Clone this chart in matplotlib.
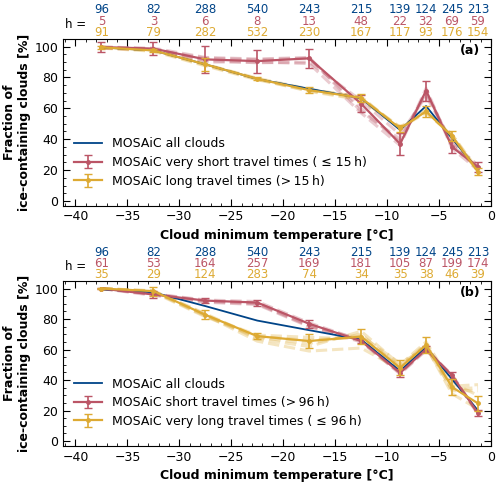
import matplotlib
matplotlib.use("Agg")
import matplotlib.pyplot as plt
from matplotlib.ticker import MultipleLocator

# ---------------------------------------------------------------------------
# Data
# ---------------------------------------------------------------------------
temp = [-37.5, -32.5, -27.5, -22.5, -17.5, -12.5, -8.75, -6.25, -3.75, -1.25]

# number of clouds per bin (header rows)
n_all = [96, 82, 288, 540, 243, 215, 139, 124, 245, 213]
n_a_short = [5, 3, 6, 8, 13, 48, 22, 32, 69, 59]
n_a_long = [91, 79, 282, 532, 230, 167, 117, 93, 176, 154]
n_b_short = [61, 53, 164, 257, 169, 181, 105, 87, 199, 174]
n_b_long = [35, 29, 124, 283, 74, 34, 35, 38, 46, 39]

# all clouds
frac_all = [99.5, 97.5, 88.5, 79, 72.7, 66.5, 46, 61.5, 40.5, 20]

# panel (a)
frac_a_short = [99.7, 98.7, 91.7, 90.6, 92.4, 63, 37, 71.5, 35, 22]
err_a_short = [3, 4.3, 8.7, 7.5, 6, 5.5, 7, 6.5, 3.8, 3]
frac_a_long = [99.5, 97.5, 88.5, 79.1, 71.8, 66.8, 47, 58, 42, 19]
err_a_long = [1, 1, 4, 1, 2, 2.5, 2.5, 3.5, 3, 2.4]

# panel (a) sensitivity runs (faint dashed)
var_a_short = [
    [99, 98, 92.5, 91.5, 92.5, 60, 38, 71, 36, 21],
    [99.5, 99, 93, 92, 93, 58, 40, 70, 37, 22],
    [100, 98.5, 91, 89.5, 90, 65, 43, 68, 38, 23],
    [99, 98, 90, 90, 89, 57, 36, 73, 34, 20],
]
var_a_long = [
    [99.5, 97.5, 88.5, 79.5, 72.5, 67, 47, 58.5, 42, 19.5],
    [99, 97, 87.5, 78.5, 71.5, 66, 48, 57.5, 43, 20],
    [99.5, 97.5, 88, 79, 72, 67.5, 46.5, 59, 41.5, 19],
    [99.5, 98, 88.5, 79, 71, 65.5, 47.5, 57, 43, 18.5],
]

# panel (b)
frac_b_short = [100, 96.1, 92.1, 90.8, 76.9, 65.6, 44.7, 60.2, 43, 18.2]
err_b_short = [0.5, 2, 1.5, 2, 2.5, 1.5, 2.5, 2, 2.5, 2]
frac_b_long = [100, 98.3, 82.8, 68.8, 65.6, 68.5, 48, 63, 35.4, 24.7]
err_b_long = [0.5, 3, 2.9, 2, 4.8, 5, 5, 5, 5.4, 4.8]

var_b_short = [
    [100, 96.5, 92.5, 91.5, 77.5, 66, 45, 60.5, 42.5, 18.5],
    [100, 96, 91.5, 90, 75.5, 65.5, 44, 59.5, 43.5, 17.5],
    [100, 96.5, 92, 90.5, 76, 66.5, 45.5, 61, 42, 19],
    [100, 95.5, 91, 89.5, 75, 65, 44.5, 60, 43, 18],
]
var_b_long = [
    [100, 98, 82, 69.5, 68, 67, 49, 63, 36, 37],
    [100, 98.5, 83.5, 68, 64, 70, 48, 64, 33, 33],
    [100, 98, 82.5, 65.5, 59, 61, 47, 62, 31, 21],
    [100, 98.5, 83, 67, 62, 72, 50, 65, 38, 30],
    [100, 97.5, 81.5, 68.5, 66, 69, 51, 61, 34, 35],
]

BLUE = "#004488"
RED = "#BB5566"
YELLOW = "#DDAA33"
FS = 9
FS_HEAD = 8.5


def style_axes(ax):
    ax.set_xlim(-41.2, 0)
    ax.set_ylim(-3, 105)
    ax.xaxis.set_major_locator(MultipleLocator(5))
    ax.xaxis.set_minor_locator(MultipleLocator(1))
    ax.yaxis.set_major_locator(MultipleLocator(20))
    ax.yaxis.set_minor_locator(MultipleLocator(5))
    ax.tick_params(which="both", direction="in", top=True, right=True,
                   labelsize=FS)
    ax.tick_params(which="major", length=5)
    ax.tick_params(which="minor", length=2.5)
    ax.set_xlabel("Cloud minimum temperature [°C]", fontsize=FS,
                  fontweight="bold")
    ax.set_ylabel("Fraction of\nice-containing clouds [%]", fontsize=FS,
                  fontweight="bold", labelpad=2)


def header(ax, counts, offset, color):
    for x, n in zip(temp, counts):
        ax.annotate(str(n), xy=(x, 1), xycoords=("data", "axes fraction"),
                    xytext=(0, offset), textcoords="offset points",
                    ha="center", va="center", fontsize=FS_HEAD, color=color,
                    annotation_clip=False)


def plot_panel(ax, short, err_short, long_, err_long, var_short, var_long,
               n_short, n_long, lab_short, lab_long, tag):
    for v in var_short:
        ax.plot(temp, v, color=RED, lw=2.2, ls="--", alpha=0.3, zorder=1)
    for v in var_long:
        ax.plot(temp, v, color=YELLOW, lw=2.2, ls="--", alpha=0.3, zorder=1)

    ax.plot(temp, frac_all, color=BLUE, lw=1.3, zorder=2,
            label="MOSAiC all clouds")
    ax.errorbar(temp, short, yerr=err_short, color=RED, lw=1.6, marker="o",
                ms=2.5, capsize=3, elinewidth=1.2, zorder=3, label=lab_short)
    ax.errorbar(temp, long_, yerr=err_long, color=YELLOW, lw=1.6, marker="o",
                ms=2.5, capsize=3, elinewidth=1.2, zorder=4, label=lab_long)

    style_axes(ax)
    ax.text(0.975, 0.93, tag, transform=ax.transAxes, ha="right", va="center",
            fontsize=FS, fontweight="bold")
    ax.legend(loc="lower left", bbox_to_anchor=(0, 0.04), frameon=False,
              fontsize=FS, handlelength=2.2, labelspacing=0.45)

    header(ax, n_all, 20.8, BLUE)
    header(ax, n_short, 12.8, RED)
    header(ax, n_long, 4.8, YELLOW)
    ax.annotate("h =", xy=(-40, 1), xycoords=("data", "axes fraction"),
                xytext=(0, 10.5), textcoords="offset points", ha="center",
                va="center", fontsize=FS_HEAD, annotation_clip=False)


fig = plt.figure(figsize=(5, 4.86), dpi=100)
ax_a = fig.add_axes([0.126, 0.577, 0.856, 0.343])
ax_b = fig.add_axes([0.126, 0.083, 0.856, 0.339])

plot_panel(ax_a, frac_a_short, err_a_short, frac_a_long, err_a_long,
           var_a_short, var_a_long, n_a_short, n_a_long,
           "MOSAiC very short travel times ( \u2264 15\u2009h)",
           "MOSAiC long travel times (>\u200915\u2009h)", "(a)")
plot_panel(ax_b, frac_b_short, err_b_short, frac_b_long, err_b_long,
           var_b_short, var_b_long, n_b_short, n_b_long,
           "MOSAiC short travel times (>\u200996\u2009h)",
           "MOSAiC very long travel times ( \u2264 96\u2009h)", "(b)")

fig.savefig("out.png", dpi=100)
